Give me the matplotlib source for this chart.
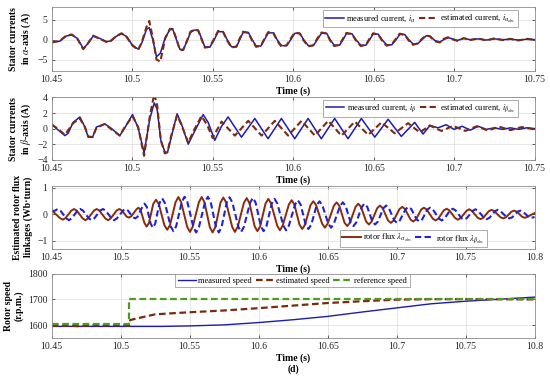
import matplotlib
matplotlib.use("Agg")
import matplotlib.pyplot as plt
import numpy as np

plt.rcParams['font.family'] = ['Liberation Serif', 'DejaVu Serif']
plt.rcParams['mathtext.fontset'] = 'stix'
plt.rcParams['font.size'] = 7

BLUE = "#1c1cb0"
BROWN = "#7a2a0e"
GREEN = "#4f9a22"

# --- (a) stator current, alpha axis ---
t_alpha = [10.4500, 10.4550, 10.4590, 10.4625, 10.4660, 10.4696, 10.4725, 10.4758,
           10.4799, 10.4841, 10.4870, 10.4900, 10.4934, 10.4965, 10.5000, 10.5037,
           10.5060, 10.5089, 10.5106, 10.5128, 10.5151, 10.5175, 10.5205, 10.5234,
           10.5252, 10.5275, 10.5296, 10.5317, 10.5340, 10.5362, 10.5385, 10.5410,
           10.5430, 10.5451, 10.5482, 10.5510, 10.5534, 10.5565, 10.5590, 10.5617,
           10.5648, 10.5668, 10.5689, 10.5722, 10.5745, 10.5770, 10.5800, 10.5822,
           10.5845, 10.5878, 10.5900, 10.5928, 10.5960, 10.5985, 10.6010, 10.6042,
           10.6065, 10.6094, 10.6125, 10.6150, 10.6176, 10.6208, 10.6230, 10.6255,
           10.6288, 10.6310, 10.6331, 10.6365, 10.6390, 10.6420, 10.6452, 10.6475,
           10.6497, 10.6528, 10.6552, 10.6580, 10.6612, 10.6640, 10.6662, 10.6693,
           10.6718, 10.6745, 10.6775, 10.6800, 10.6828, 10.6850, 10.6880, 10.6911,
           10.6935, 10.6962, 10.6990, 10.7020, 10.7060, 10.7100, 10.7150, 10.7200,
           10.7250, 10.7300, 10.7350, 10.7400, 10.7450, 10.7500]
i_alpha_meas = [-0.6, -0.4, 0.9, 1.2, 0.3, -2.2, -1.0, 0.9,
                0.3, -0.5, -0.3, 0.8, 1.5, 0.8, -1.3, -2.4,
                -0.8, 2.6, 3.0, 0.0, -4.3, -3.4, 0.5, 2.5,
                2.6, 0.0, -2.4, -2.5, -0.5, 1.8, 2.4, 2.4,
                0.4, -1.8, -1.9, 0.0, 2.0, 2.0, 0.0, -1.8,
                -1.8, 0.0, 1.8, 1.8, 0.0, -1.6, -1.6, 0.0,
                1.7, 1.7, 0.0, -1.5, -1.5, 0.0, 1.6, 1.6,
                0.0, -1.5, -1.5, 0.0, 1.6, 1.6, 0.0, -1.4,
                -1.4, 0.0, 1.5, 1.5, 0.0, -1.4, -1.4, 0.0,
                1.4, 1.4, 0.0, -1.3, -1.3, 0.0, 1.3, 1.3,
                0.0, -1.1, -1.0, 0.0, 1.0, 0.9, -0.2, -0.6,
                0.0, 0.5, 0.2, -0.2, 0.3, 0.0, 0.2, -0.1,
                0.2, 0.0, 0.1, -0.1, 0.1, 0.0]
i_alpha_est = [-0.7, -0.3, 1.0, 1.3, 0.2, -2.4, -0.9, 1.0,
               0.2, -0.6, -0.2, 0.9, 1.6, 0.7, -1.4, -2.6,
               -0.6, 3.2, 4.7, 0.5, -5.0, -5.5, 0.3, 2.7,
               2.7, 0.2, -2.6, -2.6, -0.3, 2.0, 2.5, 2.3,
               0.2, -2.0, -1.8, 0.3, 2.2, 1.9, -0.2, -2.0,
               -1.7, 0.3, 2.0, 1.7, -0.2, -1.8, -1.5, 0.3,
               1.9, 1.6, -0.2, -1.8, -1.4, 0.3, 1.8, 1.5,
               -0.2, -1.7, -1.4, 0.3, 1.8, 1.5, -0.2, -1.6,
               -1.3, 0.3, 1.7, 1.4, -0.2, -1.6, -1.3, 0.3,
               1.6, 1.3, -0.2, -1.5, -1.2, 0.3, 1.5, 1.2,
               -0.2, -1.3, -0.9, 0.2, 1.1, 0.8, -0.4, -0.7,
               0.2, 0.6, 0.1, -0.3, 0.4, -0.1, 0.3, -0.2,
               0.3, -0.1, 0.2, -0.2, 0.2, 0.0]

# --- (b) stator current, beta axis ---
t_beta_meas = [10.4500, 10.4530, 10.4582, 10.4602, 10.4633, 10.4675, 10.4706, 10.4727,
               10.4754, 10.4778, 10.4830, 10.4872, 10.4923, 10.4954, 10.5002, 10.5037,
               10.5074, 10.5109, 10.5137, 10.5155, 10.5178, 10.5203, 10.5219, 10.5244,
               10.5279, 10.5306, 10.5348, 10.5389, 10.5441, 10.5472, 10.5513, 10.5555,
               10.5596, 10.5679, 10.5762, 10.5844, 10.5927, 10.6010, 10.6093, 10.6175,
               10.6258, 10.6341, 10.6424, 10.6507, 10.6590, 10.6672, 10.6755, 10.6807,
               10.6850, 10.6900, 10.6950, 10.7000, 10.7050, 10.7100, 10.7150, 10.7200,
               10.7250, 10.7300, 10.7350, 10.7400, 10.7450, 10.7500]
i_beta_meas = [0.6, 0.0, -0.9, -0.6, 0.8, 1.5, 0.2, -1.1,
               -1.1, 0.2, 0.6, 0.0, -0.9, 0.1, 1.8, 0.1,
               -3.1, 1.2, 3.3, 2.5, -1.5, -3.0, -3.1, -1.0,
               1.9, 0.6, -2.0, -0.3, 1.8, 0.8, -1.5, 0.3,
               1.5, -1.1, 1.3, -1.3, 1.3, -1.3, 1.3, -1.3,
               1.3, -1.3, 1.3, -1.1, 1.2, -1.0, 0.8, -0.7,
               0.4, 0.1, 0.5, -0.1, 0.3, -0.2, 0.3, -0.1,
               0.1, -0.1, 0.1, -0.1, 0.1, 0.0]
t_beta_est = [10.4500, 10.4530, 10.4582, 10.4633, 10.4675, 10.4706, 10.4727, 10.4754,
              10.4778, 10.4830, 10.4872, 10.4923, 10.4954, 10.5002, 10.5037, 10.5074,
              10.5109, 10.5137, 10.5155, 10.5178, 10.5203, 10.5219, 10.5244, 10.5279,
              10.5306, 10.5348, 10.5389, 10.5430, 10.5465, 10.5500, 10.5555, 10.5638,
              10.5721, 10.5804, 10.5886, 10.5969, 10.6052, 10.6135, 10.6218, 10.6300,
              10.6383, 10.6466, 10.6549, 10.6631, 10.6714, 10.6787, 10.6849, 10.6921,
              10.6994, 10.7070, 10.7140, 10.7210, 10.7280, 10.7350, 10.7420, 10.7500]
i_beta_est = [0.5, 0.1, -0.8, 0.7, 1.3, 0.2, -1.0, -1.1,
              0.1, 0.6, -0.1, -0.9, 0.2, 1.6, 0.2, -3.5,
              1.5, 4.5, 3.0, -1.5, -3.2, -3.0, -0.8, 1.7,
              0.5, -1.8, 0.0, 1.6, 0.5, -1.2, 0.9, -0.9,
              1.0, -0.9, 1.0, -0.9, 1.0, -0.9, 1.0, -0.9,
              0.9, -0.8, 0.8, -0.6, 0.7, -0.5, 0.4, -0.3,
              0.35, -0.3, 0.3, -0.25, 0.25, -0.2, 0.2, -0.1]

# --- (c) estimated rotor flux linkages, (time, value) ---
flux_a_pts = [
    (10.4500, 0.15), (10.4560, -0.14), (10.4580, -0.20), (10.4600, -0.14),
    (10.4642, 0.14), (10.4662, 0.20), (10.4682, 0.14),
    (10.4724, -0.15), (10.4744, -0.22), (10.4764, -0.15),
    (10.4806, 0.14), (10.4826, 0.20), (10.4846, 0.14),
    (10.4888, -0.15), (10.4908, -0.22), (10.4928, -0.15),
    (10.4970, 0.14), (10.4990, 0.20), (10.5010, 0.14),
    (10.5042, -0.08), (10.5059, -0.12), (10.5076, -0.08),
    (10.5113, 0.18), (10.5128, 0.25), (10.5143, 0.18),
    (10.5172, -0.32), (10.5188, -0.46), (10.5205, -0.32),
    (10.5236, 0.39), (10.5256, 0.55), (10.5276, 0.39),
    (10.5317, -0.41), (10.5337, -0.58), (10.5357, -0.41),
    (10.5398, 0.46), (10.5418, 0.65), (10.5438, 0.46),
    (10.5482, -0.47), (10.5502, -0.66), (10.5522, -0.47),
    (10.5567, 0.46), (10.5587, 0.65), (10.5607, 0.46),
    (10.5646, -0.48), (10.5666, -0.68), (10.5686, -0.48),
    (10.5724, 0.45), (10.5744, 0.63), (10.5764, 0.45),
    (10.5808, -0.47), (10.5828, -0.66), (10.5848, -0.47),
    (10.5893, 0.43), (10.5913, 0.61), (10.5933, 0.43),
    (10.5971, -0.45), (10.5991, -0.63), (10.6011, -0.45),
    (10.6050, 0.41), (10.6070, 0.58), (10.6090, 0.41),
    (10.6134, -0.42), (10.6154, -0.60), (10.6174, -0.42),
    (10.6219, 0.37), (10.6239, 0.53), (10.6259, 0.37),
    (10.6296, -0.39), (10.6316, -0.55), (10.6336, -0.39),
    (10.6376, 0.35), (10.6396, 0.49), (10.6416, 0.35),
    (10.6460, -0.35), (10.6480, -0.50), (10.6500, -0.35),
    (10.6545, 0.32), (10.6565, 0.45), (10.6585, 0.32),
    (10.6622, -0.31), (10.6642, -0.44), (10.6662, -0.31),
    (10.6702, 0.28), (10.6722, 0.40), (10.6742, 0.28),
    (10.6779, -0.27), (10.6799, -0.38), (10.6819, -0.27),
    (10.6859, 0.23), (10.6879, 0.33), (10.6899, 0.23),
    (10.6938, -0.23), (10.6958, -0.32), (10.6978, -0.23),
    (10.7021, 0.20), (10.7041, 0.28), (10.7061, 0.20),
    (10.7100, -0.19), (10.7120, -0.27), (10.7140, -0.19),
    (10.7178, 0.18), (10.7198, 0.25), (10.7218, 0.18),
    (10.7262, -0.16), (10.7282, -0.23), (10.7302, -0.16),
    (10.7342, 0.15), (10.7362, 0.21), (10.7382, 0.15),
    (10.7424, -0.14), (10.7444, -0.20), (10.7464, -0.14),
    (10.7506, 0.13), (10.7526, 0.19), (10.7546, 0.13),
    (10.7588, -0.13), (10.7608, -0.18), (10.7628, -0.13),
    (10.7668, 0.12), (10.7688, 0.17), (10.7708, 0.12),
    (10.7753, -0.11), (10.7773, -0.15), (10.7793, -0.11),
    (10.7832, 0.10), (10.7852, 0.14), (10.7872, 0.10),
    (10.7909, -0.09), (10.7929, -0.13), (10.7949, -0.09),
    (10.8000, 0.05)]
flux_b_pts = [
    (10.4500, 0.12), (10.4525, 0.14), (10.4543, 0.20), (10.4563, 0.14),
    (10.4605, -0.15), (10.4625, -0.22), (10.4645, -0.15),
    (10.4687, 0.14), (10.4707, 0.20), (10.4727, 0.14),
    (10.4769, -0.15), (10.4789, -0.22), (10.4809, -0.15),
    (10.4851, 0.14), (10.4871, 0.20), (10.4891, 0.14),
    (10.4933, -0.15), (10.4953, -0.22), (10.4973, -0.15),
    (10.5017, 0.14), (10.5035, 0.20), (10.5053, 0.14),
    (10.5087, -0.10), (10.5104, -0.15), (10.5121, -0.10),
    (10.5157, 0.28), (10.5173, 0.40), (10.5189, 0.28),
    (10.5217, -0.35), (10.5233, -0.50), (10.5250, -0.35),
    (10.5281, 0.42), (10.5301, 0.60), (10.5321, 0.42),
    (10.5362, -0.45), (10.5382, -0.63), (10.5402, -0.45),
    (10.5443, 0.47), (10.5463, 0.66), (10.5483, 0.47),
    (10.5527, -0.48), (10.5547, -0.68), (10.5567, -0.48),
    (10.5612, 0.47), (10.5632, 0.66), (10.5652, 0.47),
    (10.5691, -0.48), (10.5711, -0.68), (10.5731, -0.48),
    (10.5769, 0.45), (10.5789, 0.64), (10.5809, 0.45),
    (10.5853, -0.47), (10.5873, -0.66), (10.5893, -0.47),
    (10.5938, 0.44), (10.5958, 0.62), (10.5978, 0.44),
    (10.6016, -0.45), (10.6036, -0.63), (10.6056, -0.45),
    (10.6095, 0.41), (10.6115, 0.58), (10.6135, 0.41),
    (10.6179, -0.42), (10.6199, -0.60), (10.6219, -0.42),
    (10.6264, 0.37), (10.6284, 0.53), (10.6304, 0.37),
    (10.6341, -0.39), (10.6361, -0.55), (10.6381, -0.39),
    (10.6421, 0.35), (10.6441, 0.49), (10.6461, 0.35),
    (10.6505, -0.35), (10.6525, -0.50), (10.6545, -0.35),
    (10.6590, 0.32), (10.6610, 0.45), (10.6630, 0.32),
    (10.6667, -0.31), (10.6687, -0.44), (10.6707, -0.31),
    (10.6747, 0.28), (10.6767, 0.40), (10.6787, 0.28),
    (10.6824, -0.27), (10.6844, -0.38), (10.6864, -0.27),
    (10.6904, 0.23), (10.6924, 0.33), (10.6944, 0.23),
    (10.6983, -0.23), (10.7003, -0.32), (10.7023, -0.23),
    (10.7066, 0.20), (10.7086, 0.28), (10.7106, 0.20),
    (10.7145, -0.19), (10.7165, -0.27), (10.7185, -0.19),
    (10.7223, 0.18), (10.7243, 0.25), (10.7263, 0.18),
    (10.7307, -0.16), (10.7327, -0.23), (10.7347, -0.16),
    (10.7387, 0.15), (10.7407, 0.21), (10.7427, 0.15),
    (10.7469, -0.14), (10.7489, -0.20), (10.7509, -0.14),
    (10.7551, 0.13), (10.7571, 0.19), (10.7591, 0.13),
    (10.7633, -0.13), (10.7653, -0.18), (10.7673, -0.13),
    (10.7713, 0.12), (10.7733, 0.17), (10.7753, 0.12),
    (10.7798, -0.11), (10.7818, -0.15), (10.7838, -0.11),
    (10.7877, 0.10), (10.7897, 0.14), (10.7917, 0.10),
    (10.7954, -0.09), (10.7974, -0.13), (10.8000, -0.10)]

# --- (d) rotor speed ---
t_speed_meas = [10.45, 10.50, 10.53, 10.55, 10.575, 10.60, 10.625, 10.65,
                10.675, 10.70, 10.725, 10.75, 10.775, 10.80]
speed_meas = [1595, 1595, 1595, 1597, 1601, 1610, 1621, 1634,
              1651, 1667, 1683, 1693, 1701, 1709]
t_speed_est = [10.45, 10.46, 10.47, 10.48, 10.49, 10.50, 10.506, 10.507,
               10.515, 10.525, 10.54, 10.55, 10.575, 10.60, 10.625, 10.65,
               10.675, 10.70, 10.725, 10.75, 10.80]
speed_est = [1597, 1598, 1596, 1600, 1599, 1600, 1598, 1620,
             1630, 1642, 1647, 1650, 1657, 1666, 1676, 1686,
             1693, 1699, 1701, 1701, 1700]
t_speed_ref = [10.45, 10.506, 10.506, 10.80]
speed_ref = [1603, 1603, 1700, 1700]

ticks_a = [10.45, 10.5, 10.55, 10.6, 10.65, 10.7, 10.75]
ticks_d = [10.45, 10.5, 10.55, 10.6, 10.65, 10.7, 10.75, 10.8]


def style_axes(ax, xlim, xticks, ylim, yticks):
    ax.set_xlim(*xlim)
    ax.set_ylim(*ylim)
    ax.set_xticks(xticks)
    ax.set_xticklabels([f"{v:g}" for v in xticks])
    ax.set_yticks(yticks)
    ax.grid(True, color="#dcdcdc", lw=0.5)
    ax.set_axisbelow(True)
    ax.tick_params(direction="in", length=2.5, width=0.5, top=True, right=True,
                   pad=3, colors="#262626", labelsize=7)
    for s in ax.spines.values():
        s.set_color("#8c8c8c")
        s.set_linewidth(0.6)
    ax.set_xlabel("Time (s)", fontweight="bold", labelpad=1.5)


def add_legend(ax, loc, anchor, ncol):
    leg = ax.legend(loc=loc, bbox_to_anchor=anchor, ncol=ncol, fontsize=6,
                    frameon=True, fancybox=False, framealpha=1,
                    borderaxespad=0, borderpad=0.3, handlelength=2.2,
                    handletextpad=0.3, columnspacing=0.4, labelspacing=0.2)
    leg.get_frame().set_edgecolor("#8c8c8c")
    leg.get_frame().set_linewidth(0.5)


fig = plt.figure(figsize=(5.5, 3.81), dpi=100)
left, width = 0.094, 0.878
ax1 = fig.add_axes([left, 0.8144, width, 0.1672])
ax2 = fig.add_axes([left, 0.5808, width, 0.1633])
ax3 = fig.add_axes([left, 0.3465, width, 0.1664])
ax4 = fig.add_axes([left, 0.1129, width, 0.1687])

dash = (0, (3, 1.6))

ax1.plot(t_alpha, i_alpha_meas, color=BLUE, lw=1.1, label=r"measured current, $i_{\alpha}$")
ax1.plot(t_alpha, i_alpha_est, color=BROWN, lw=1.5, ls=dash,
         label=r"estimated current, $i_{\alpha_{obs}}$")
style_axes(ax1, (10.45, 10.75), ticks_a, (-7.8, 8.2), [-5, 0, 5])
ax1.set_ylabel("Stator currents\n" + r"in $\alpha$-axis (A)", fontweight="bold")
add_legend(ax1, "upper right", (0.9654, 0.953), 2)

ax2.plot(t_beta_meas, i_beta_meas, color=BLUE, lw=1.1, label=r"measured current, $i_{\beta}$")
ax2.plot(t_beta_est, i_beta_est, color=BROWN, lw=1.5, ls=dash,
         label=r"estimated current, $i_{\beta_{obs}}$")
style_axes(ax2, (10.45, 10.75), ticks_a, (-4, 4), [-4, -2, 0, 2, 4])
ax2.set_ylabel("Stator currents\n" + r"in $\beta$-axis (A)", fontweight="bold")
add_legend(ax2, "upper right", (0.9654, 0.96), 2)

fa = np.array(flux_a_pts)
fb = np.array(flux_b_pts)
ax3.plot(fa[:, 0], fa[:, 1], color="#8a2c0c", lw=1.4, label=r"rotor flux $\lambda_{\alpha_{obs}}$")
ax3.plot(fb[:, 0], fb[:, 1], color="#2222cc", lw=1.5, ls=dash,
         label=r"rotor flux $\lambda_{\beta_{obs}}$")
style_axes(ax3, (10.45, 10.8), ticks_d, (-1.3, 1.08), [-1, 0, 1])
ax3.set_ylabel("Estimated rotor flux\nlinkages (Wb" + "\u00b7" + "turn)", fontweight="bold")
add_legend(ax3, "lower right", (0.901, 0.03), 2)

ax4.plot(t_speed_meas, speed_meas, color=BLUE, lw=1.0, label="measured speed")
ax4.plot(t_speed_est, speed_est, color=BROWN, lw=1.6, ls=dash, label="estimated speed")
ax4.plot(t_speed_ref, speed_ref, color=GREEN, lw=1.6, ls=dash, label="reference speed")
style_axes(ax4, (10.45, 10.8), ticks_d, (1550, 1800), [1600, 1700, 1800])
ax4.set_ylabel("Rotor speed\n(r.p.m.)", fontweight="bold")
ax4.set_xlabel("Time (s)\n(d)", fontweight="bold", labelpad=1.5)
add_legend(ax4, "upper center", (0.4985, 0.99), 3)

for ax in (ax1, ax2, ax3):
    ax.yaxis.set_label_coords(-0.038, 0.5)
ax4.yaxis.set_label_coords(-0.058, 0.5)

fig.savefig("out.png", dpi=100)
